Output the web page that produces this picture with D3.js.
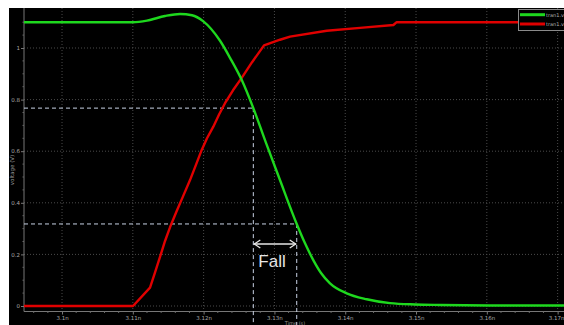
<!DOCTYPE html>
<html>
<head>
<meta charset="utf-8">
<script src="https://cdn.jsdelivr.net/npm/d3@7"></script>
<style>
  html, body { margin: 0; padding: 0; background: #fff; }
  svg { display: block; }
</style>
</head>
<body>
<svg id="chart" width="564" height="325"></svg>
<script>
// Transient simulation: output falling (green) and input rising (red), time in ns
const greenTime = [3.09463, 3.11, 3.1120, 3.11455, 3.11667, 3.11836, 3.11992, 3.12232, 3.12373, 3.12542, 3.12702, 3.12881, 3.13069, 3.13315, 3.13432, 3.13549, 3.13658, 3.13785, 3.14021, 3.14304, 3.14633, 3.14986, 3.15339, 3.16186, 3.1709];
const greenVolt = [1.10, 1.10, 1.106, 1.124, 1.132, 1.127, 1.104, 1.028, 0.962, 0.874, 0.767, 0.632, 0.495, 0.318, 0.243, 0.178, 0.128, 0.088, 0.049, 0.026, 0.011, 0.006, 0.004, 0.002, 0.002];

const redTime = [3.09463, 3.11003, 3.11243, 3.11314, 3.11384, 3.11455, 3.11525, 3.1162, 3.11709, 3.11808, 3.11893, 3.11973, 3.12048, 3.12137, 3.12218, 3.12302, 3.12415, 3.12538, 3.12684, 3.12853, 3.13079, 3.1322, 3.13739, 3.14209, 3.1468, 3.14727, 3.1709];
const redVolt = [0, 0, 0.071, 0.13, 0.19, 0.252, 0.305, 0.368, 0.425, 0.488, 0.548, 0.605, 0.65, 0.695, 0.742, 0.786, 0.836, 0.884, 0.945, 1.010, 1.032, 1.044, 1.067, 1.078, 1.089, 1.10, 1.10];

const xTicks = [3.10, 3.11, 3.12, 3.13, 3.14, 3.15, 3.16, 3.17];
const xTickLabels = ["3.1n", "3.11n", "3.12n", "3.13n", "3.14n", "3.15n", "3.16n", "3.17n"];
const yTicks = [0, 0.2, 0.4, 0.6, 0.8, 1];
const yTickLabels = ["0", "0.2", "0.4", "0.6", "0.8", "1"];

const seriesNames = ["tran1.vout", "tran1.vin"];

// Fall-time measurement: the two threshold levels and where the output crosses them
const levelHigh = 0.767, levelLow = 0.318;
const crossHigh = 3.12702, crossLow = 3.13315;
const measureLabel = "Fall";

const svg = d3.select("#chart");

const plotLeft = 24, plotBottom = 311.5;
const x = d3.scaleLinear().domain([3.09463, 3.1709]).range([24, 564]);
const y = d3.scaleLinear().domain([0, 1]).range([306, 48]);

// black plotting canvas
svg.append("rect").attr("x", 9).attr("y", 8).attr("width", 555).attr("height", 317).attr("fill", "#000");

// dotted grid
const grid = svg.append("g");
grid.selectAll("line.gx").data(xTicks).join("line")
  .attr("x1", d => x(d)).attr("x2", d => x(d))
  .attr("y1", 8).attr("y2", plotBottom)
  .attr("stroke", "#4a4a4a").attr("stroke-width", 1).attr("stroke-dasharray", "1,2");
grid.selectAll("line.gy").data(yTicks).join("line")
  .attr("x1", plotLeft).attr("x2", 564)
  .attr("y1", d => y(d)).attr("y2", d => y(d))
  .attr("stroke", "#4a4a4a").attr("stroke-width", 1).attr("stroke-dasharray", "1,2");

// axes
const xAxis = d3.axisBottom(x).tickValues(xTicks).tickFormat((d, i) => xTickLabels[i]).tickSize(3).tickPadding(2);
const yAxis = d3.axisLeft(y).tickValues(yTicks).tickFormat((d, i) => yTickLabels[i]).tickSize(3).tickPadding(1);

const gx = svg.append("g").attr("transform", `translate(0,${plotBottom})`).call(xAxis);
const gy = svg.append("g").attr("transform", `translate(${plotLeft},0)`).call(yAxis);
gx.select(".domain").attr("d", `M${plotLeft},0H564`);
gy.select(".domain").attr("d", `M0,8V${plotBottom}`);
[gx, gy].forEach(g => {
  g.selectAll(".domain").attr("stroke", "#777");
  g.selectAll(".tick line").attr("stroke", "#777");
  g.selectAll("text").attr("fill", "#a8a8a8").attr("font-size", 5.5).attr("font-family", "DejaVu Sans, sans-serif");
});
// keep the last time label inside the frame
gx.selectAll(".tick text").filter((d, i) => i === xTicks.length - 1).attr("dx", -1.5);

// minor ticks
const xMinor = d3.range(3.096, 3.1709, 0.002).filter(v => !xTicks.some(t => Math.abs(t - v) < 1e-6));
svg.append("g").selectAll("line").data(xMinor).join("line")
  .attr("x1", d => x(d)).attr("x2", d => x(d))
  .attr("y1", plotBottom).attr("y2", plotBottom + 1.5)
  .attr("stroke", "#666");
const yMinor = d3.range(0, 1.15, 0.05).filter(v => !yTicks.some(t => Math.abs(t - v) < 1e-6));
svg.append("g").selectAll("line").data(yMinor).join("line")
  .attr("x1", plotLeft - 1.5).attr("x2", plotLeft)
  .attr("y1", d => y(d)).attr("y2", d => y(d))
  .attr("stroke", "#666");

// axis titles
svg.append("text").attr("transform", `translate(14,170) rotate(-90)`)
  .attr("text-anchor", "middle").attr("fill", "#9a9a9a").attr("font-size", 5.5)
  .attr("font-family", "DejaVu Sans, sans-serif").text("voltage (V)");
svg.append("text").attr("x", 295).attr("y", 324.5)
  .attr("text-anchor", "middle").attr("fill", "#9a9a9a").attr("font-size", 5)
  .attr("font-family", "DejaVu Sans, sans-serif").text("Time (s)");

// measurement guides
const guides = svg.append("g").attr("stroke", "#c9d3e6").attr("stroke-width", 1).attr("stroke-dasharray", "4,3").attr("fill", "none");
guides.append("line").attr("x1", plotLeft).attr("x2", x(crossHigh)).attr("y1", y(levelHigh)).attr("y2", y(levelHigh));
guides.append("line").attr("x1", plotLeft).attr("x2", x(crossLow)).attr("y1", y(levelLow)).attr("y2", y(levelLow));
guides.append("line").attr("x1", x(crossHigh)).attr("x2", x(crossHigh)).attr("y1", y(levelHigh)).attr("y2", 325);
guides.append("line").attr("x1", x(crossLow)).attr("x2", x(crossLow)).attr("y1", y(levelLow)).attr("y2", 325);

// waveforms (input is piecewise, output is smooth)
const lineGreen = d3.line().x((d, i) => x(greenTime[i])).y(d => y(d)).curve(d3.curveMonotoneX);
const lineRed = d3.line().x((d, i) => x(redTime[i])).y(d => y(d)).curve(d3.curveLinear);
svg.append("path").attr("d", lineRed(redVolt)).attr("fill", "none").attr("stroke", "#e00000").attr("stroke-width", 2.4).attr("stroke-linejoin", "round");
svg.append("path").attr("d", lineGreen(greenVolt)).attr("fill", "none").attr("stroke", "#1ed81e").attr("stroke-width", 2.4).attr("stroke-linejoin", "round");

// double-headed arrow spanning the fall interval
const arrowY = 244;
const ax1 = x(crossHigh) + 1, ax2 = x(crossLow) - 1;
const arrow = svg.append("g").attr("stroke", "#e6e6e6").attr("stroke-width", 1.3).attr("fill", "none");
arrow.append("line").attr("x1", ax1).attr("x2", ax2).attr("y1", arrowY).attr("y2", arrowY);
arrow.append("path").attr("d", `M${ax1 + 6},${arrowY - 4}L${ax1},${arrowY}L${ax1 + 6},${arrowY + 4}`);
arrow.append("path").attr("d", `M${ax2 - 6},${arrowY - 4}L${ax2},${arrowY}L${ax2 - 6},${arrowY + 4}`);
svg.append("text").attr("x", (x(crossHigh) + x(crossLow)) / 2 - 3).attr("y", 267)
  .attr("text-anchor", "middle").attr("fill", "#e6e6e6").attr("font-size", 17)
  .attr("font-family", "Liberation Sans, Arial, sans-serif").text(measureLabel);

// legend
const legend = svg.append("g");
legend.append("rect").attr("x", 518.5).attr("y", 9.5).attr("width", 60).attr("height", 21)
  .attr("fill", "#000").attr("stroke", "#8a8a8a").attr("stroke-width", 1);
const legendColors = ["#1ed81e", "#e00000"];
seriesNames.forEach((name, i) => {
  const ly = 14.7 + i * 9.3;
  legend.append("line").attr("x1", 520).attr("x2", 545).attr("y1", ly).attr("y2", ly)
    .attr("stroke", legendColors[i]).attr("stroke-width", 3);
  legend.append("text").attr("x", 546).attr("y", ly + 2).attr("fill", "#b0b0b0")
    .attr("font-size", 5).attr("font-family", "DejaVu Sans, sans-serif").text(name);
});
</script>
</body>
</html>
